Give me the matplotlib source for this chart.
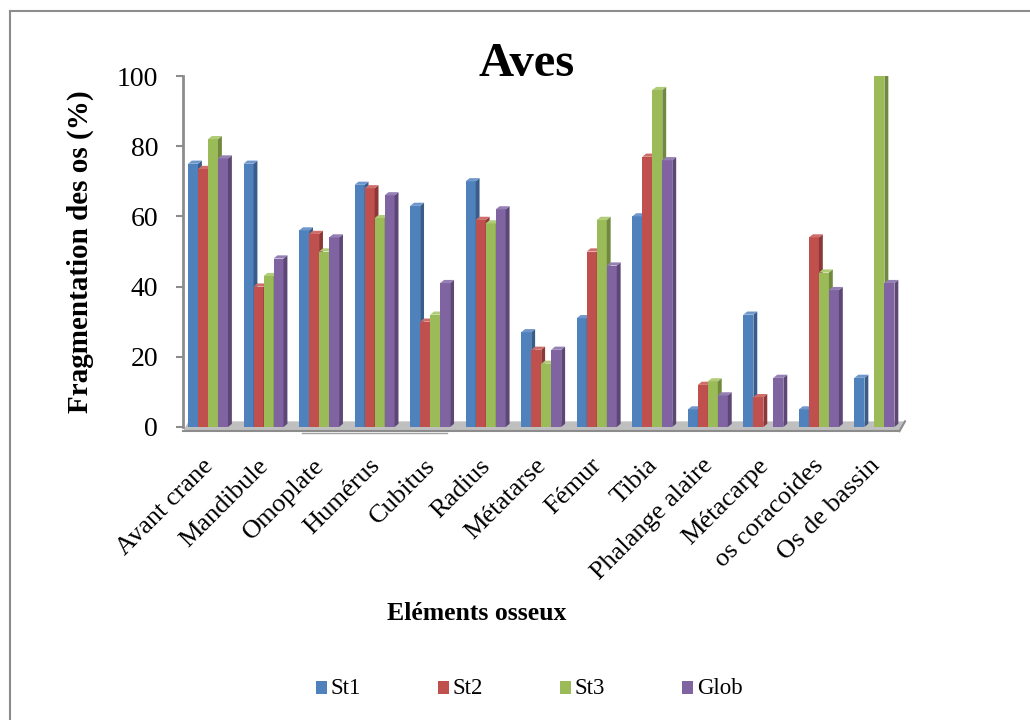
import numpy as np
import matplotlib.pyplot as plt
import matplotlib.transforms as mtransforms
from matplotlib.lines import Line2D
from matplotlib.patches import Rectangle

plt.rcParams['font.family'] = ['Liberation Serif', 'DejaVu Serif']

# Fragmentation (%) par élément osseux et par station
elements = ['Avant crane', 'Mandibule', 'Omoplate', 'Humérus', 'Cubitus', 'Radius',
            'Métatarse', 'Fémur', 'Tibia', 'Phalange alaire', 'Métacarpe',
            'os coracoides', 'Os de bassin']
st1 = [75, 75, 56, 69, 63, 70, 27, 31, 60, 5, 32, 5, 14]
st2 = [73.5, 40, 55, 68, 30, 59, 22, 50, 77, 12, 8.5, 54, 0]
st3 = [82, 43, 50, 59.5, 32, 58, 18, 59, 96, 13, 0, 44, 100]
glob = [76.5, 48, 54, 66, 41, 62, 22, 46, 76, 9, 14, 39, 41]

series = ['St1', 'St2', 'St3', 'Glob']
values = [st1, st2, st3, glob]
colors = ['#4F81BD', '#C0504D', '#9BBB59', '#8064A2']
side_colors = ['#385D8A', '#8C3836', '#71893F', '#5C4776']
top_colors = ['#6F97CC', '#CF6D6A', '#B0CC78', '#9580B5']

fig = plt.figure(figsize=(10.3, 7.2), dpi=100)
ax = fig.add_axes([183 / 1030, 1 - 427 / 720, 722 / 1030, 351 / 720])

x = np.arange(len(elements))
w = 0.18
dx, dy = 0.07, 0.9  # depth of the pseudo-3D faces, data units

for k, (vals, c, sc, tc) in enumerate(zip(values, colors, side_colors, top_colors)):
    left = x - 2 * w - 0.05 + k * w
    ax.bar(left, vals, width=w, align='edge', color=c, zorder=3 + k)
    for l, h in zip(left, vals):
        if h <= 0:
            continue
        r = l + w
        ax.fill([r, r + dx, r + dx, r], [0, dy, h + dy, h], color=sc,
                zorder=3 + k, lw=0)
        ax.fill([l, l + dx, r + dx, r], [h, h + dy, h + dy, h], color=tc,
                zorder=3 + k, lw=0)

# floor of the plot
ax.fill([-0.5, -0.4, 12.5, 12.4], [-1.2, 1.6, 1.6, -1.2], color='#BFBFBF',
        zorder=1, clip_on=False, lw=0)
ax.plot([-0.5, 12.4], [-1.2, -1.2], color='#8C8C8C', lw=1.5, zorder=2, clip_on=False)
ax.plot([12.4, 12.5], [-1.2, 1.6], color='#8C8C8C', lw=1.5, zorder=2, clip_on=False)
ax.plot([0.165, 0.366], [-0.016, -0.016], transform=ax.transAxes, color='#A0A0A0',
        lw=1, clip_on=False)

ax.set_xlim(-0.5, 12.5)
ax.set_ylim(0, 100)
ax.set_yticks([0, 20, 40, 60, 80, 100])
ax.set_xticks(x)
ax.set_xticklabels(elements, rotation=45, ha='right', rotation_mode='anchor')
ax.tick_params(axis='x', length=0, pad=22, labelsize=19)
ax.tick_params(axis='y', length=5, width=1.5, color='#8C8C8C', pad=13, labelsize=20)

# nudge the slanted labels so their upper end sits under the category
shift = mtransforms.ScaledTranslation(-0.09, 0.03, fig.dpi_scale_trans)
for lab in ax.get_xticklabels():
    lab.set_transform(lab.get_transform() + shift)

for s in ['top', 'right', 'bottom']:
    ax.spines[s].set_visible(False)
ax.spines['left'].set_color('#8C8C8C')
ax.spines['left'].set_linewidth(2)

ax.set_ylabel('Fragmentation des os (%)', fontsize=21, fontweight='bold', labelpad=16)
fig.text(527 / 1030, 1 - 64 / 720, 'Aves', ha='center', va='center',
         fontsize=35, fontweight='bold')
fig.text(477 / 1030, 1 - 614 / 720, 'Eléments osseux', ha='center', va='center',
         fontsize=18.5, fontweight='bold')

# legend, evenly spaced entries
for k, (name, c) in enumerate(zip(series, colors)):
    x0 = 316 + k * 122
    fig.add_artist(Rectangle((x0 / 1030, 1 - 694 / 720), 11 / 1030, 13 / 720,
                             facecolor=c, edgecolor='none'))
    fig.text((x0 + 15) / 1030, 1 - 688 / 720, name, ha='left', va='center',
             fontsize=16.5)

# outer frame of the chart area
fig.add_artist(Line2D([10 / 1030, 10 / 1030], [0, 1 - 11 / 720], color='#8C8C8C', lw=1.5))
fig.add_artist(Line2D([10 / 1030, 1], [1 - 11 / 720, 1 - 11 / 720], color='#8C8C8C', lw=1.5))

fig.savefig('out.png', dpi=100)
